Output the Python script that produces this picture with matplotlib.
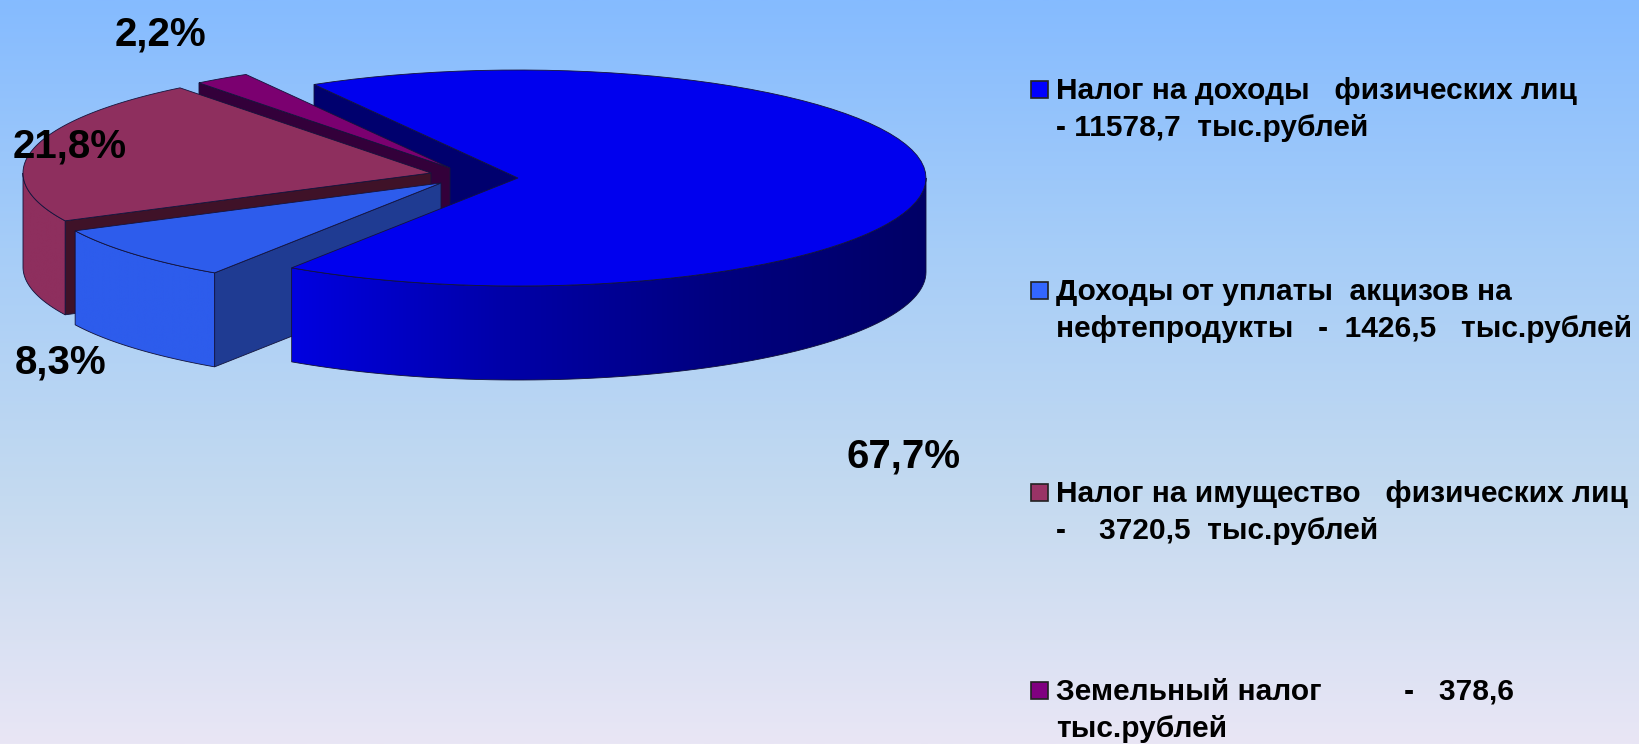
import numpy as np
import matplotlib
matplotlib.use('Agg')
import matplotlib.pyplot as plt
from matplotlib.colors import LinearSegmentedColormap
from matplotlib.patches import Polygon, Rectangle

plt.rcParams['font.family'] = ['Liberation Sans', 'DejaVu Sans']

values = [11578.7, 1426.5, 3720.5, 378.6]
percent_labels = ['67,7%', '8,3%', '21,8%', '2,2%']
legend_lines = [
    ['Налог на доходы   физических лиц', '- 11578,7  тыс.рублей'],
    ['Доходы от уплаты  акцизов на', 'нефтепродукты   -  1426,5   тыс.рублей'],
    ['Налог на имущество   физических лиц', '-    3720,5  тыс.рублей'],
    ['Земельный налог          -   378,6', 'тыс.рублей'],
]
legend_colors = ['#0000ff', '#3366ff', '#993366', '#800080']
top_colors = ['#0000ee', '#2d5cec', '#8e2f5e', '#7b0070']
cut_colors = ['#00006e', '#1f3b92', '#3f1228', '#33003a']

# pie geometry in image pixels
RX = 408
RY = 108
DEPTH = 94
START = 120
centers = [(518, 178), (441, 183), (431, 173), (450, 168)]
label_pos = [(904, 456), (61, 363), (70, 146), (160, 34)]
legend_y = [91, 292, 494, 692]
LINE_GAP = 37


def arc(center, a0, a1, n=80):
    t = np.radians(np.linspace(a0, a1, n))
    return np.column_stack([center[0] + RX * np.cos(t), center[1] - RY * np.sin(t)])


def down(pts):
    return pts + np.array([0, DEPTH])


def gradient_wall(ax, top_edge, stops):
    # outer wall, shaded from left to right
    pts = np.vstack([top_edge, down(top_edge)[::-1]])
    poly = Polygon(pts, closed=True, facecolor='none', edgecolor='none', transform=ax.transData)
    ax.add_patch(poly)
    cmap = LinearSegmentedColormap.from_list('wall', stops)
    grad = np.linspace(0, 1, 256).reshape(1, -1)
    ext = [pts[:, 0].min(), pts[:, 0].max(), pts[:, 1].max(), pts[:, 1].min()]
    im = ax.imshow(grad, cmap=cmap, extent=ext, aspect='auto', zorder=ax.zorder_now)
    im.set_clip_path(poly)
    ax.zorder_now += 1
    ax.add_patch(Polygon(pts, closed=True, facecolor='none', edgecolor='#10103a',
                         lw=0.6, zorder=ax.zorder_now))
    ax.zorder_now += 1


def flat(ax, pts, color):
    ax.add_patch(Polygon(pts, closed=True, facecolor=color, edgecolor='#14143c',
                         lw=0.6, zorder=ax.zorder_now))
    ax.zorder_now += 1


def cut_face(ax, center, angle, color):
    edge = np.vstack([arc(center, angle, angle, 1), [center]])
    flat(ax, np.vstack([edge, down(edge)[::-1]]), color)


fig = plt.figure(figsize=(16.39, 7.44), dpi=100)
ax = fig.add_axes([0, 0, 1, 1])
ax.axis('off')
ax.zorder_now = 2

# background
bg = LinearSegmentedColormap.from_list('bg', ['#85bbff', '#a6cdf8', '#c4daf0', '#e9e6f5'])
ax.imshow(np.linspace(0, 1, 256).reshape(-1, 1), cmap=bg, extent=[0, 1639, 744, 0],
          aspect='auto', zorder=0)

# slice angles come from the values, clockwise from START
shares = np.array(values) / sum(values)
bounds = START - np.concatenate([[0], np.cumsum(shares) * 360])

# back cut of the big slice, then the slices from back to front
cut_face(ax, centers[0], bounds[0], cut_colors[0])

cut_face(ax, centers[3], bounds[3], cut_colors[3])
flat(ax, np.vstack([[centers[3]], arc(centers[3], bounds[3], bounds[4])]), top_colors[3])

cut_face(ax, centers[2], bounds[2], cut_colors[2])
gradient_wall(ax, arc(centers[2], bounds[2], -180), ['#8e2f5e', '#8e2f5e'])
flat(ax, np.vstack([[centers[2]], arc(centers[2], bounds[2], bounds[3])]), top_colors[2])

cut_face(ax, centers[1], bounds[1], cut_colors[1])
gradient_wall(ax, arc(centers[1], bounds[1], bounds[2]), ['#2d5cec', '#2d5cec'])
flat(ax, np.vstack([[centers[1]], arc(centers[1], bounds[1], bounds[2])]), top_colors[1])

gradient_wall(ax, arc(centers[0], bounds[1], 0), ['#0000e0', '#0000a8', '#000080', '#000066'])
flat(ax, np.vstack([[centers[0]], arc(centers[0], bounds[0], bounds[1])]), top_colors[0])

for label, (x, y) in zip(percent_labels, label_pos):
    ax.text(x, y, label, fontsize=29, fontweight='bold', color='black',
            ha='center', va='center', zorder=50)

for lines, color, y in zip(legend_lines, legend_colors, legend_y):
    ax.add_patch(Rectangle((1031, y - 10), 17, 17, facecolor=color, edgecolor='#222222',
                           lw=1.2, zorder=50))
    ax.text(1056, y, lines[0], fontsize=21.5, fontweight='bold', va='center', zorder=50)
    ax.text(1056, y + LINE_GAP, lines[1], fontsize=21.5, fontweight='bold', va='center', zorder=50)

ax.set_xlim(0, 1639)
ax.set_ylim(744, 0)
fig.savefig('out.png', dpi=100)
